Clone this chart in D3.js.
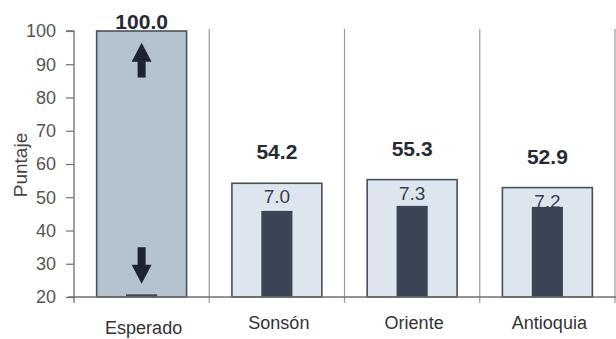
<!DOCTYPE html>
<html>
<head>
<meta charset="utf-8">
<script src="https://cdn.jsdelivr.net/npm/d3@7"></script>
<style>
  html, body { margin: 0; padding: 0; background: #ffffff; }
  svg { display: block; }
  text { font-family: "Liberation Sans", Arial, sans-serif; }
</style>
</head>
<body>
<svg id="chart" width="616" height="339"></svg>
<script>
// ---- data ----
const categories  = ["Esperado", "Sonsón", "Oriente", "Antioquia"];
const outerValues = [100.0, 54.2, 55.3, 52.9];
const outerLabels = ["100.0", "54.2", "55.3", "52.9"];
const innerValues = [20.8, 45.9, 47.4, 47.1];
const innerLabels = ["", "7.0", "7.3", "7.2"];
const yTicks      = [20, 30, 40, 50, 60, 70, 80, 90, 100];
const arrowUp     = [86, 96.5];   // shaft bottom, tip (value units)
const arrowDown   = [35, 24];     // shaft top, tip (value units)
const yTitle      = "Puntaje";

// ---- layout ----
const W = 616, H = 339;
const mLeft = 74, mRight = 615, mTop = 31, mBottom = 297;

const svg = d3.select("#chart");

const x = d3.scaleBand().domain(categories).range([mLeft, mRight]).padding(0);
const y = d3.scaleLinear().domain([20, 100]).range([mBottom, mTop]);

const outerW = x.bandwidth() * 0.665;
const innerW = x.bandwidth() * 0.23;

// separators between categories
svg.append("g").selectAll("line")
  .data(categories)
  .join("line")
  .attr("x1", d => x(d) + x.bandwidth())
  .attr("x2", d => x(d) + x.bandwidth())
  .attr("y1", mTop - 2)
  .attr("y2", mBottom + 6)
  .attr("stroke", "#9a9a9a")
  .attr("stroke-width", 1.2);

// outer bars
svg.append("g").selectAll("rect")
  .data(categories)
  .join("rect")
  .attr("x", d => x(d) + (x.bandwidth() - outerW) / 2)
  .attr("y", (d, i) => y(outerValues[i]))
  .attr("width", outerW)
  .attr("height", (d, i) => y(20) - y(outerValues[i]))
  .attr("fill", (d, i) => i === 0 ? "#b5c3d1" : "#dde6ee")
  .attr("stroke", "#4a4f58")
  .attr("stroke-width", 1.6);

// inner bars
svg.append("g").selectAll("rect")
  .data(categories)
  .join("rect")
  .attr("x", d => x(d) + (x.bandwidth() - innerW) / 2)
  .attr("y", (d, i) => y(innerValues[i]))
  .attr("width", innerW)
  .attr("height", (d, i) => y(20) - y(innerValues[i]))
  .attr("fill", "#3b4454");

// arrows on the expected bar
const cx = x(categories[0]) + x.bandwidth() / 2;
function arrow(from, to) {
  const y0 = y(from), y1 = y(to);
  const dir = Math.sign(y1 - y0);
  const headLen = 19, headHalf = 10, shaftHalf = 4;
  const yh = y1 - dir * headLen;
  const p = [
    [cx - shaftHalf, y0], [cx + shaftHalf, y0], [cx + shaftHalf, yh],
    [cx + headHalf, yh], [cx, y1], [cx - headHalf, yh], [cx - shaftHalf, yh]
  ];
  svg.append("path")
    .attr("d", d3.line()(p) + "Z")
    .attr("fill", "#1d2330");
}
arrow(arrowUp[0], arrowUp[1]);
arrow(arrowDown[0], arrowDown[1]);

// x axis line
svg.append("line")
  .attr("x1", mLeft - 6).attr("x2", W)
  .attr("y1", mBottom).attr("y2", mBottom)
  .attr("stroke", "#6f6f6f").attr("stroke-width", 1.3);

// y axis
const yAxis = svg.append("g")
  .attr("transform", `translate(${mLeft},0)`)
  .call(d3.axisLeft(y).tickValues(yTicks).tickSize(8).tickPadding(10).tickFormat(d3.format("d")));
yAxis.select(".domain").attr("stroke", "#6f6f6f").attr("stroke-width", 1.3)
  .attr("d", `M-8,${mTop}H0V${mBottom + 6}`);
yAxis.selectAll(".tick line").attr("stroke", "#6f6f6f").attr("stroke-width", 1.2);
yAxis.selectAll(".tick text")
  .attr("fill", "#555")
  .style("font-size", "18px")
  .style("font-family", "'Liberation Sans', Arial, sans-serif");

// y title
svg.append("text")
  .attr("transform", `translate(27,165) rotate(-90)`)
  .attr("text-anchor", "middle")
  .attr("fill", "#444")
  .style("font-size", "19px")
  .text(yTitle);

// category labels
svg.append("g").selectAll("text")
  .data(categories)
  .join("text")
  .attr("x", d => x(d) + x.bandwidth() / 2 + 2)
  .attr("y", (d, i) => i === 0 ? 334 : 329)
  .attr("text-anchor", "middle")
  .attr("fill", "#333")
  .style("font-size", "18px")
  .text(d => d);

// value labels above bars
svg.append("g").selectAll("text")
  .data(categories)
  .join("text")
  .attr("x", d => x(d) + x.bandwidth() / 2)
  .attr("y", (d, i) => y(outerValues[i]) - (i === 0 ? 2 : 24))
  .attr("text-anchor", "middle")
  .attr("fill", "#262a33")
  .style("font-size", "21px")
  .style("font-weight", "bold")
  .text((d, i) => outerLabels[i]);

// inner labels
svg.append("g").selectAll("text")
  .data(categories)
  .join("text")
  .attr("x", d => x(d) + x.bandwidth() / 2)
  .attr("y", (d, i) => y(outerValues[i]) + 20)
  .attr("text-anchor", "middle")
  .attr("fill", "#3a3f48")
  .style("font-size", "19px")
  .text((d, i) => innerLabels[i]);
</script>
</body>
</html>
